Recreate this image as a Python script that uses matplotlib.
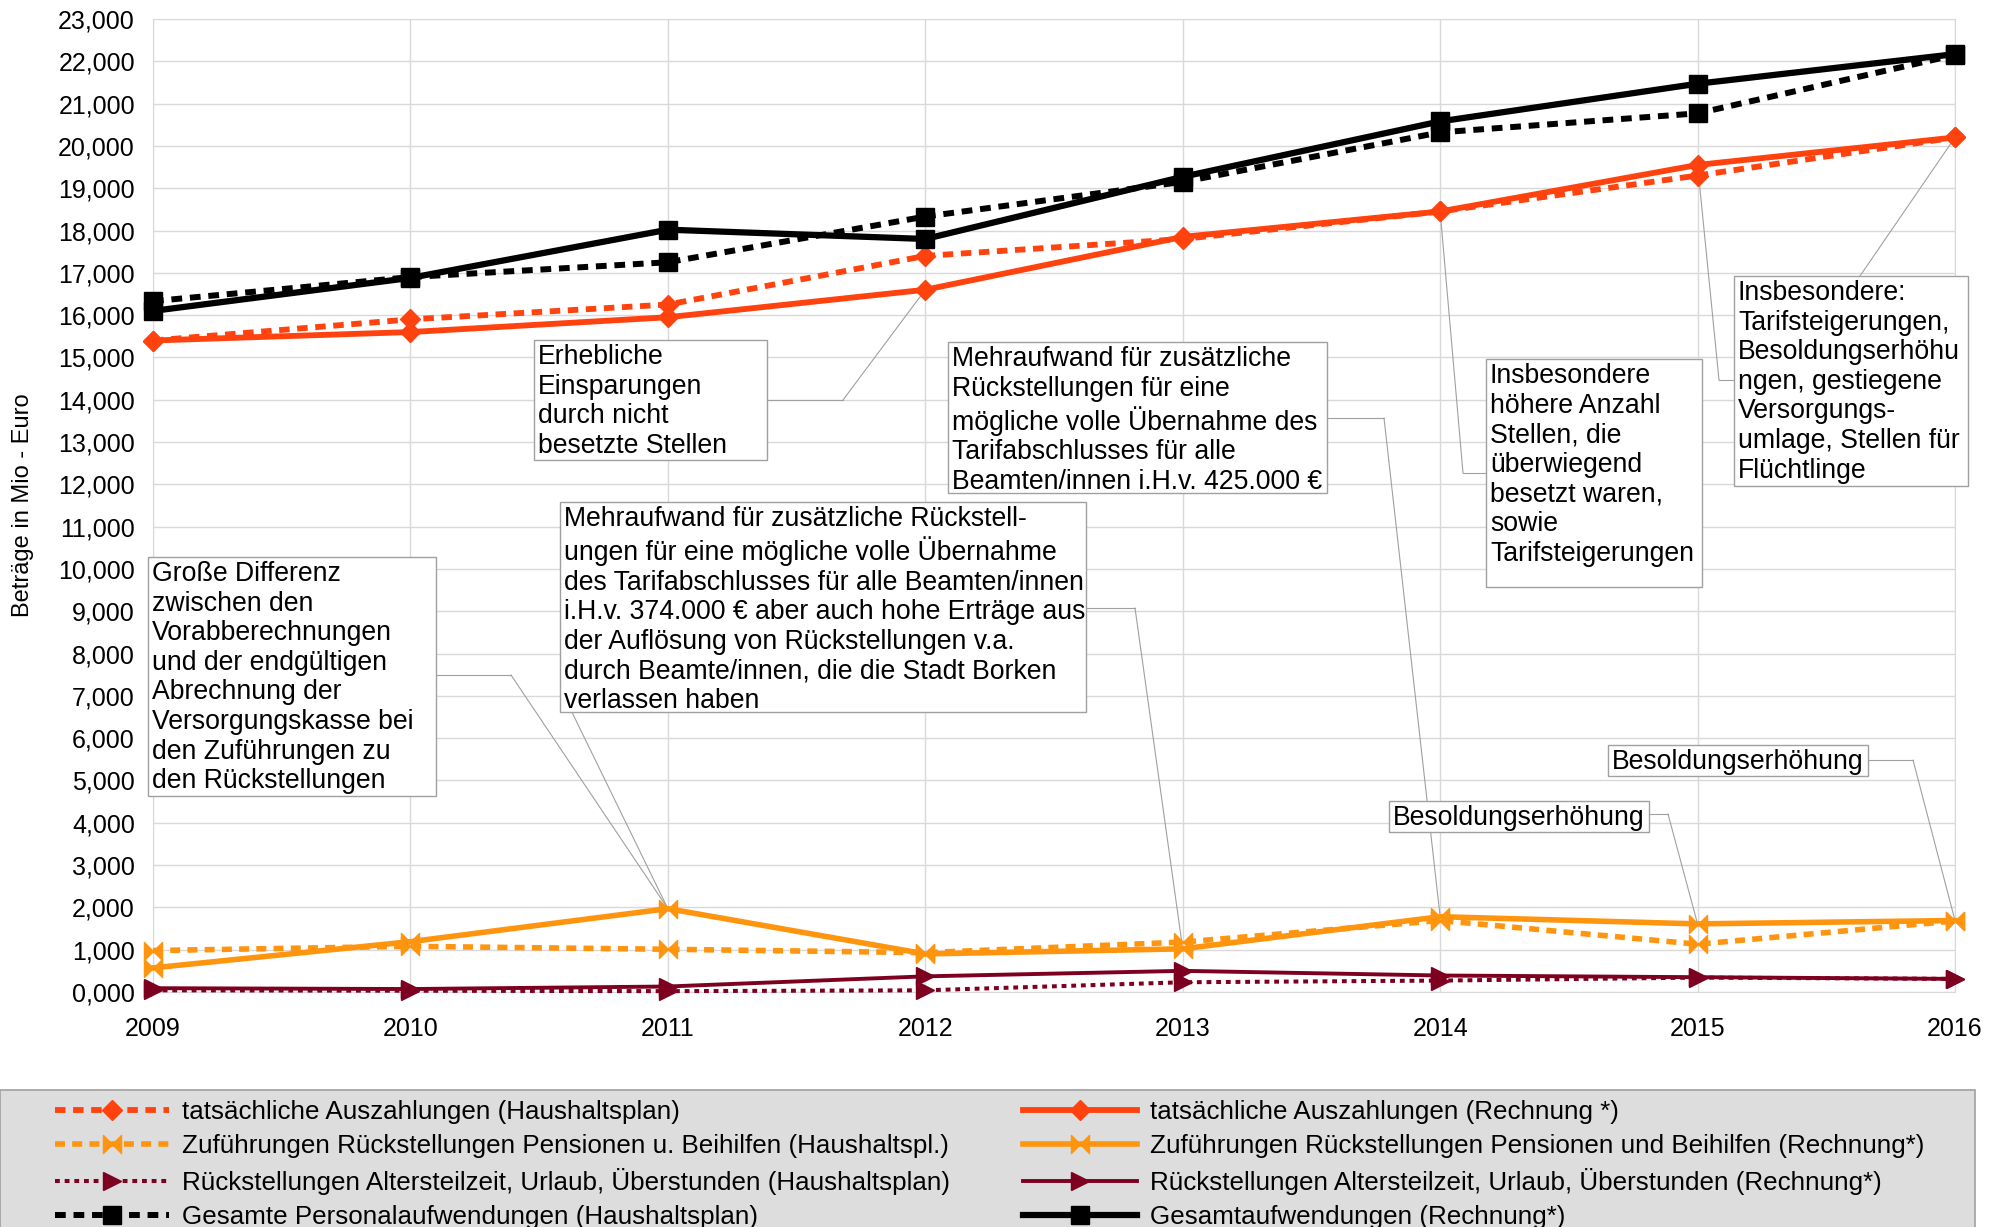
import matplotlib
matplotlib.use("Agg")
import matplotlib.pyplot as plt
from matplotlib.path import Path
from matplotlib.patches import Rectangle
from matplotlib.ticker import FuncFormatter, MultipleLocator

plt.rcParams['font.family'] = ['Liberation Sans', 'DejaVu Sans']

# data (values in Mio Euro)
years = [2009, 2010, 2011, 2012, 2013, 2014, 2015, 2016]
ausz_plan = [15.40, 15.90, 16.25, 17.40, 17.80, 18.45, 19.30, 20.20]
ausz_rechnung = [15.40, 15.60, 15.95, 16.60, 17.85, 18.45, 19.55, 20.20]
zuf_plan = [0.98, 1.08, 1.01, 0.93, 1.18, 1.69, 1.13, 1.68]
zuf_rechnung = [0.57, 1.19, 1.97, 0.90, 1.02, 1.78, 1.61, 1.69]
rueck_plan = [0.04, 0.03, 0.02, 0.04, 0.23, 0.27, 0.34, 0.31]
rueck_rechnung = [0.09, 0.07, 0.13, 0.37, 0.50, 0.39, 0.35, 0.31]
gesamt_plan = [16.33, 16.90, 17.25, 18.33, 19.15, 20.32, 20.77, 22.15]
gesamt_rechnung = [16.10, 16.88, 18.02, 17.80, 19.27, 20.58, 21.47, 22.17]

labels_plan = [
    "tatsächliche Auszahlungen (Haushaltsplan)",
    "Zuführungen Rückstellungen Pensionen u. Beihilfen (Haushaltspl.)",
    "Rückstellungen Altersteilzeit, Urlaub, Überstunden (Haushaltsplan)",
    "Gesamte Personalaufwendungen (Haushaltsplan)",
]
labels_rechnung = [
    "tatsächliche Auszahlungen (Rechnung *)",
    "Zuführungen Rückstellungen Pensionen und Beihilfen (Rechnung*)",
    "Rückstellungen Altersteilzeit, Urlaub, Überstunden (Rechnung*)",
    "Gesamtaufwendungen (Rechnung*)",
]

# colours
c_red = "#ff420e"
c_orange = "#ff950e"
c_dark = "#7e0021"
c_black = "#000000"
c_box = "#a0a0a0"

# bow tie marker (two triangles pointing at each other)
bowtie = Path([(-1, -1), (-1, 1), (0, 0), (-1, -1), (1, -1), (1, 1), (0, 0), (1, -1)],
              [Path.MOVETO, Path.LINETO, Path.LINETO, Path.CLOSEPOLY,
               Path.MOVETO, Path.LINETO, Path.LINETO, Path.CLOSEPOLY])

fig = plt.figure(figsize=(20.04, 12.27), dpi=100)
L, R, T, B = 153, 1955, 19, 992
ax = fig.add_axes([L / 2004, 1 - B / 1227, (R - L) / 2004, (B - T) / 1227])


# pixel position of the reference -> axes fraction
def px(x, y):
    return ((x - L) / (R - L), (B - y) / (B - T))


handles = []
# Haushaltsplan series
h, = ax.plot(years, ausz_plan, color=c_red, lw=4.2, dashes=(1.8, 1.3), marker="D", ms=10, clip_on=False, zorder=3)
handles.append(h)
h, = ax.plot(years, zuf_plan, color=c_orange, lw=4.0, dashes=(1.8, 1.3), marker=bowtie, ms=13, clip_on=False, zorder=3)
handles.append(h)
h, = ax.plot(years, rueck_plan, color=c_dark, lw=2.9, dashes=(1.2, 1.2), marker=">", ms=13, clip_on=False, zorder=3)
handles.append(h)
h, = ax.plot(years, gesamt_plan, color=c_black, lw=4.3, dashes=(1.8, 1.3), marker="s", ms=13, clip_on=False, zorder=3)
handles.append(h)
# Rechnung series
h, = ax.plot(years, ausz_rechnung, color=c_red, lw=4.2, marker="D", ms=10, clip_on=False, zorder=4)
handles.append(h)
h, = ax.plot(years, zuf_rechnung, color=c_orange, lw=4.0, marker=bowtie, ms=13, clip_on=False, zorder=4)
handles.append(h)
h, = ax.plot(years, rueck_rechnung, color=c_dark, lw=2.8, marker=">", ms=13, clip_on=False, zorder=4)
handles.append(h)
h, = ax.plot(years, gesamt_rechnung, color=c_black, lw=4.5, marker="s", ms=13, clip_on=False, zorder=4)
handles.append(h)

# axes
ax.set_xlim(2009, 2016)
ax.set_ylim(0, 23)
ax.set_xticks(years)
ax.yaxis.set_major_locator(MultipleLocator(1))
ax.yaxis.set_major_formatter(FuncFormatter(lambda v, p: f"{v:.3f}".replace(".", ",")))
ax.tick_params(axis="both", length=0, labelsize=18)
ax.tick_params(axis="y", pad=13)
ax.tick_params(axis="x", pad=18)
ax.grid(True, color="#d9d9d9", lw=1)
ax.set_axisbelow(True)
for s in ax.spines.values():
    s.set_color("#d9d9d9")
ax.set_ylabel("Beträge in Mio - Euro", fontsize=17)
ax.yaxis.set_label_coords(-0.066, 0.5)

# annotation boxes: text and box edges in pixels (left, top, right, bottom)
notes = [
    ("Erhebliche\nEinsparungen\ndurch nicht\nbesetzte Stellen", 534, 340, 767, 460),
    ("Mehraufwand für zusätzliche\nRückstellungen für eine\nmögliche volle Übernahme des\n"
     "Tarifabschlusses für alle\nBeamten/innen i.H.v. 425.000 €", 948, 342, 1327, 493),
    ("Insbesondere\nhöhere Anzahl\nStellen, die\nüberwiegend\nbesetzt waren,\nsowie\nTarifsteigerungen",
     1486, 359, 1702, 587),
    ("Insbesondere:\nTarifsteigerungen,\nBesoldungserhöhu\nngen, gestiegene\nVersorgungs-\numlage, Stellen für\nFlüchtlinge",
     1734, 276, 1968, 486),
    ("Mehraufwand für zusätzliche Rückstell-\nungen für eine mögliche volle Übernahme\n"
     "des Tarifabschlusses für alle Beamten/innen\ni.H.v. 374.000 € aber auch hohe Erträge aus\n"
     "der Auflösung von Rückstellungen v.a.\ndurch Beamte/innen, die die Stadt Borken\nverlassen haben",
     560, 502, 1086, 712),
    ("Große Differenz\nzwischen den\nVorabberechnungen\nund der endgültigen\nAbrechnung der\n"
     "Versorgungskasse bei\nden Zuführungen zu\nden Rückstellungen", 148, 557, 436, 796),
    ("Besoldungserhöhung", 1389, 801, 1649, 832),
    ("Besoldungserhöhung", 1608, 745, 1868, 776),
]
for txt, x0, y0, x1, y1 in notes:
    a = px(x0, y1)
    b = px(x1, y0)
    ax.add_patch(Rectangle(a, b[0] - a[0], b[1] - a[1], transform=ax.transAxes,
                           facecolor="white", edgecolor=c_box, lw=1, zorder=5, clip_on=False))
    ax.text(*px(x0 + 4, y0 + 4), txt, transform=ax.transAxes, ha="left", va="top",
            fontsize=19.2, linespacing=1.18, zorder=6)

# leader lines: start, elbow (pixels) -> data point
leaders = [
    ((767, 400), (843, 400), 2012, ausz_rechnung[3]),
    ((1327, 418), (1384, 418), 2014, zuf_rechnung[5]),
    ((1486, 473), (1463, 473), 2014, ausz_rechnung[5]),
    ((1734, 380), (1719, 380), 2015, ausz_rechnung[6]),
    ((1860, 276), (1860, 276), 2016, ausz_rechnung[7]),
    ((1086, 608), (1135, 608), 2013, zuf_rechnung[4]),
    ((566, 700), (566, 700), 2011, zuf_rechnung[2]),
    ((436, 675), (511, 675), 2011, zuf_rechnung[2]),
    ((1649, 814), (1668, 814), 2015, zuf_rechnung[6]),
    ((1868, 760), (1913, 760), 2016, zuf_rechnung[7]),
]
for start, elbow, yr, val in leaders:
    s = px(*start)
    e = px(*elbow)
    ax.plot([s[0], e[0]], [s[1], e[1]], transform=ax.transAxes, color=c_box, lw=0.8, zorder=2)
    ax.annotate("", xy=(yr, val), xycoords="data", xytext=e, textcoords="axes fraction",
                arrowprops=dict(arrowstyle="-", color=c_box, lw=0.8, shrinkA=0, shrinkB=0), zorder=2)

# legend area at the bottom
fig.patches.append(Rectangle((0, -0.01), 1975 / 2004, 1 - 1090 / 1227 + 0.01, transform=fig.transFigure,
                             facecolor="#dddddd", edgecolor="#a0a0a0", lw=1.2, zorder=0))
fig.legend(handles, labels_plan + labels_rechnung, ncol=2, loc="upper left",
           bbox_to_anchor=(55 / 2004, 1 - 1100 / 1227), frameon=False, fontsize=18.7,
           handlelength=4.4, handletextpad=0.5, columnspacing=2.8, labelspacing=0.38,
           borderpad=0, borderaxespad=0, numpoints=1)

fig.savefig("out.png", dpi=100)
